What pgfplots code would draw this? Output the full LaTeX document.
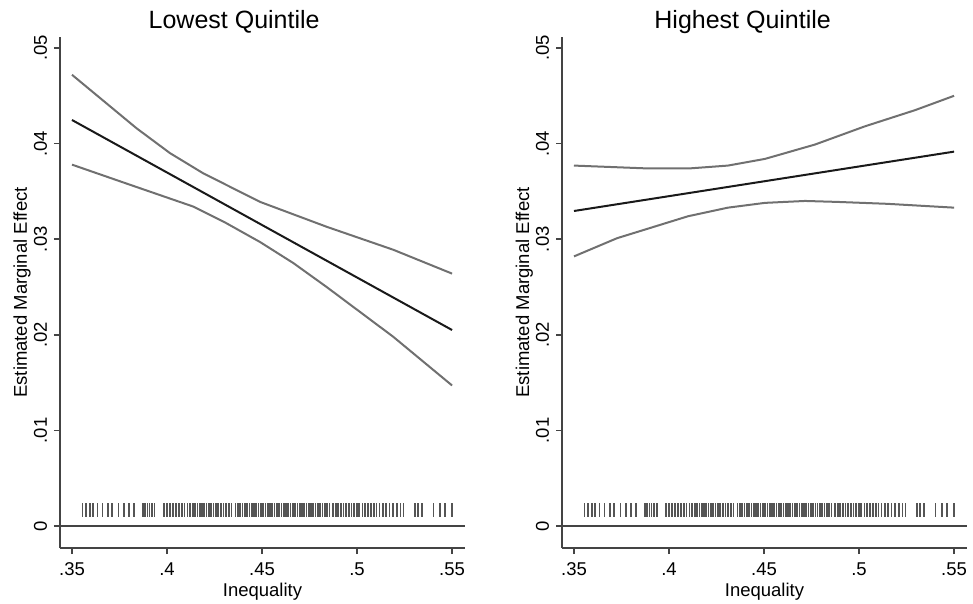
\documentclass[border=0pt]{standalone}
\usepackage{fontspec}
\setmainfont{Liberation Sans}
\usepackage{pgfplots}
\pgfplotsset{compat=1.18}
\usepackage{pgfplotstable}

\definecolor{cigray}{RGB}{112,112,112}
\definecolor{estline}{RGB}{25,25,25}
\definecolor{axgray}{RGB}{68,68,68}
\definecolor{ruggray}{RGB}{85,85,85}

% observed inequality values (rug), same in both panels
\pgfplotstableread[row sep=\\]{
x y\\
.3555 .00167\\ .3575 .00167\\ .3595 .00167\\ .3612 .00167\\ .3635 .00167\\ .3660 .00167\\
.3688 .00167\\ .3712 .00167\\ .3745 .00167\\ .3775 .00167\\ .3800 .00167\\ .3825 .00167\\
.3875 .00167\\ .3885 .00167\\ .3897 .00167\\ .3908 .00167\\ .3920 .00167\\ .3935 .00167\\
.3985 .00167\\ .4000 .00167\\ .4015 .00167\\ .4030 .00167\\ .4048 .00167\\ .4062 .00167\\
.4078 .00167\\ .4092 .00167\\ .4108 .00167\\ .4120 .00167\\ .4135 .00167\\ .4148 .00167\\
.4160 .00167\\ .4172 .00167\\ .4184 .00167\\ .4196 .00167\\ .4208 .00167\\ .4220 .00167\\
.4232 .00167\\ .4245 .00167\\ .4258 .00167\\ .4270 .00167\\ .4283 .00167\\ .4297 .00167\\
.4310 .00167\\ .4325 .00167\\ .4340 .00167\\
.4360 .00167\\ .4372 .00167\\ .4385 .00167\\ .4397 .00167\\ .4410 .00167\\ .4422 .00167\\
.4434 .00167\\ .4446 .00167\\ .4458 .00167\\ .4470 .00167\\ .4482 .00167\\ .4494 .00167\\
.4506 .00167\\ .4518 .00167\\ .4530 .00167\\ .4542 .00167\\ .4554 .00167\\ .4566 .00167\\
.4578 .00167\\ .4590 .00167\\ .4602 .00167\\ .4614 .00167\\ .4626 .00167\\ .4638 .00167\\
.4650 .00167\\ .4662 .00167\\ .4674 .00167\\ .4686 .00167\\ .4698 .00167\\ .4710 .00167\\
.4722 .00167\\ .4734 .00167\\ .4746 .00167\\ .4758 .00167\\ .4770 .00167\\ .4782 .00167\\
.4794 .00167\\ .4806 .00167\\ .4818 .00167\\ .4830 .00167\\ .4842 .00167\\ .4855 .00167\\
.4875 .00167\\ .4888 .00167\\ .4900 .00167\\ .4914 .00167\\ .4928 .00167\\ .4942 .00167\\
.4956 .00167\\ .4970 .00167\\ .4984 .00167\\ .4998 .00167\\ .5012 .00167\\ .5028 .00167\\
.5042 .00167\\ .5058 .00167\\ .5072 .00167\\ .5088 .00167\\ .5102 .00167\\ .5118 .00167\\
.5135 .00167\\ .5152 .00167\\ .5170 .00167\\ .5190 .00167\\ .5210 .00167\\ .5228 .00167\\
.5245 .00167\\
.5305 .00167\\ .5320 .00167\\ .5341 .00167\\ .5402 .00167\\ .5437 .00167\\ .5463 .00167\\
.5498 .00167\\
}\rugtable

\pgfplotsset{
  meplot/.style={
    scale only axis, width=202.5pt, height=255.5pt,
    xmin=0.3437, xmax=0.5568, ymin=-0.0023, ymax=0.05115,
    axis x line*=bottom, axis y line*=left,
    axis line style={axgray, line width=0.8pt},
    xtick={0.35,0.4,0.45,0.5,0.55}, xticklabels={.35,.4,.45,.5,.55},
    ytick={0,0.01,0.02,0.03,0.04,0.05}, yticklabels={0,.01,.02,.03,.04,.05},
    tick align=outside, major tick length=3pt,
    tick style={axgray, line width=0.8pt},
    ticklabel style={font=\fontsize{9.25}{11}\selectfont},
    xticklabel style={yshift=-1pt},
    yticklabel style={rotate=90, anchor=south},
    label style={font=\fontsize{9.25}{11}\selectfont},
    xlabel=Inequality, ylabel=Estimated Marginal Effect,
    xlabel style={at={(axis description cs:0.5,0)}, anchor=base, yshift=-24pt},
    % ylabel is rotated, so a positive yshift moves it to the left
    ylabel style={at={(axis description cs:0,0.5)}, anchor=base, yshift=16.5pt},
    title style={font=\fontsize{12.5}{14}\selectfont, anchor=base, yshift=-2pt},
    scaled ticks=false,
    clip=false,
  },
  rug/.style={only marks, mark=|, mark size=3.5pt, ruggray,
    mark options={line width=0.85pt, solid}},
  ci/.style={cigray, line width=1pt, no marks},
  est/.style={estline, line width=1pt, no marks},
  zero/.style={axgray, line width=1pt, no marks},
}

\begin{document}
\begin{tikzpicture}
\useasboundingbox (0,0) rectangle (486.5pt,302pt);

\begin{axis}[meplot, at={(30pt,28pt)}, anchor=south west,
    title={Lowest Quintile},
    title style={at={(axis description cs:0.43,1)}}]
\addplot[zero] coordinates {(0.3437,0) (0.5568,0)};
\addplot[rug] table[x=x,y=y] {\rugtable};
\addplot[ci] coordinates {
  (0.350,0.0472) (0.384,0.0416) (0.4016,0.0390) (0.419,0.0369) (0.449,0.0339)
  (0.484,0.0313) (0.519,0.0289) (0.550,0.0264)};
\addplot[ci] coordinates {
  (0.350,0.0378) (0.379,0.0358) (0.414,0.0334) (0.431,0.0317) (0.449,0.0297)
  (0.4665,0.0275) (0.484,0.0250) (0.519,0.0198) (0.550,0.0147)};
\addplot[est] coordinates {(0.35,0.04247) (0.55,0.0205)};
\end{axis}

\begin{axis}[meplot, at={(281pt,28pt)}, anchor=south west,
    title={Highest Quintile},
    title style={at={(axis description cs:0.446,1)}}]
\addplot[zero] coordinates {(0.3437,0) (0.5568,0)};
\addplot[rug] table[x=x,y=y] {\rugtable};
\addplot[ci] coordinates {
  (0.350,0.0377) (0.389,0.0374) (0.4105,0.0374) (0.431,0.0377) (0.4505,0.0384)
  (0.4768,0.0399) (0.503,0.0418) (0.5295,0.0435) (0.550,0.0450)};
\addplot[ci] coordinates {
  (0.350,0.0282) (0.3726,0.0301) (0.410,0.0324) (0.431,0.0333) (0.4505,0.0338)
  (0.4716,0.0340) (0.4886,0.0339) (0.5149,0.0337) (0.550,0.0333)};
\addplot[est] coordinates {(0.35,0.03295) (0.55,0.03916)};
\end{axis}
\end{tikzpicture}
\end{document}
